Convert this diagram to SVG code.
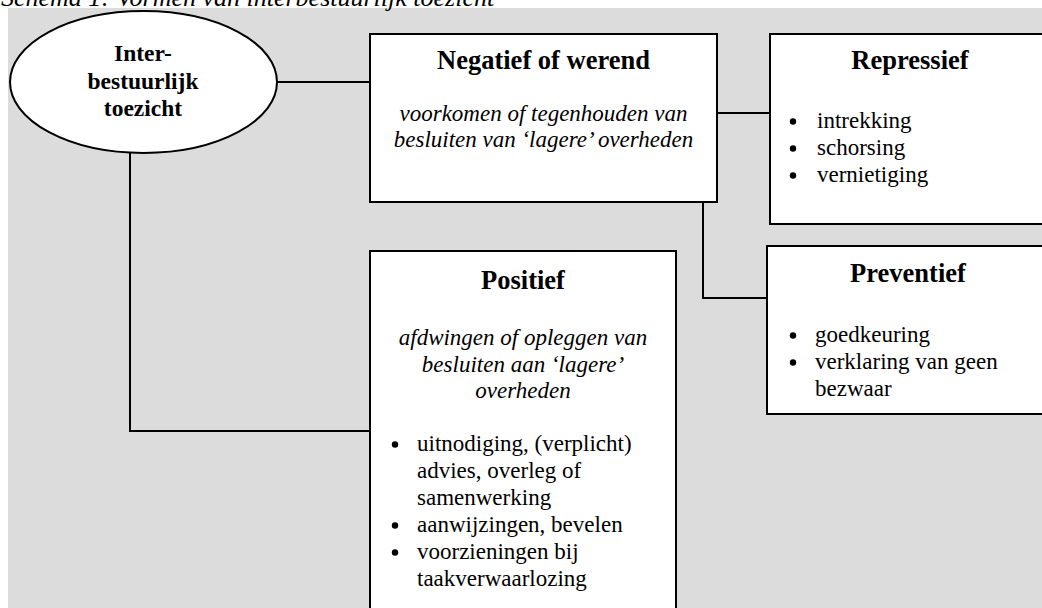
<svg xmlns="http://www.w3.org/2000/svg" width="1042" height="608" viewBox="0 0 1042 608">
<style>
.box{fill:#fff;stroke:#000;stroke-width:2}
.conn{fill:none;stroke:#000;stroke-width:2}
.dot{fill:#000}
text{font-family:"Liberation Serif","Times New Roman",serif;fill:#000}
.h{font-size:26.5px;font-weight:bold;text-anchor:middle}
.e{font-size:23.5px;font-weight:bold;text-anchor:middle}
.i{font-size:23px;font-style:italic;text-anchor:middle}
.b{font-size:23px}
</style>
<rect x="0" y="0" width="1042" height="608" fill="#fff"/>
<rect x="8" y="8" width="1034" height="600" fill="#dcdcdc"/>
<text x="1" y="6" style="font-size:26px;font-style:italic">Schema 1: Vormen van interbestuurlijk toezicht</text>
<g id="connectors">
<line class="conn" x1="277" y1="82" x2="370" y2="82"/>
<line class="conn" x1="717" y1="113" x2="770" y2="113"/>
<polyline class="conn" points="703,202 703,298 767,298"/>
<polyline class="conn" points="130,153 130,431 370,431"/>
</g>
<g id="toezicht">
<ellipse class="box" cx="143.5" cy="82" rx="133.5" ry="71"/>
<text class="e" x="143" y="61">Inter-</text>
<text class="e" x="143" y="89">bestuurlijk</text>
<text class="e" x="143" y="116">toezicht</text>
</g>
<g id="negatief">
<rect class="box" x="370" y="34" width="347" height="168"/>
<text class="h" x="543.5" y="69">Negatief of werend</text>
<text class="i" x="543.5" y="121">voorkomen of tegenhouden van</text>
<text class="i" x="543.5" y="147">besluiten van ‘lagere’ overheden</text>
</g>
<g id="repressief">
<rect class="box" x="770" y="34" width="290" height="190"/>
<text class="h" x="910" y="69">Repressief</text>
<circle class="dot" cx="793" cy="121.5" r="3.2"/><text class="b" x="817" y="128">intrekking</text>
<circle class="dot" cx="793" cy="148.5" r="3.2"/><text class="b" x="817" y="155">schorsing</text>
<circle class="dot" cx="793" cy="175.5" r="3.2"/><text class="b" x="817" y="182">vernietiging</text>
</g>
<g id="preventief">
<rect class="box" x="767" y="246" width="290" height="168"/>
<text class="h" x="908" y="282">Preventief</text>
<circle class="dot" cx="793" cy="335.5" r="3.2"/><text class="b" x="815" y="342">goedkeuring</text>
<circle class="dot" cx="793" cy="362.5" r="3.2"/><text class="b" x="815" y="369">verklaring van geen</text>
<text class="b" x="815" y="396">bezwaar</text>
</g>
<g id="positief">
<rect class="box" x="370" y="251" width="306" height="370"/>
<text class="h" x="523" y="289">Positief</text>
<text class="i" x="523" y="345">afdwingen of opleggen van</text>
<text class="i" x="523" y="372">besluiten aan ‘lagere’</text>
<text class="i" x="523" y="398">overheden</text>
<circle class="dot" cx="395" cy="444.5" r="3.2"/><text class="b" x="417" y="451">uitnodiging, (verplicht)</text>
<text class="b" x="417" y="478">advies, overleg of</text>
<text class="b" x="417" y="505">samenwerking</text>
<circle class="dot" cx="395" cy="525.5" r="3.2"/><text class="b" x="417" y="532">aanwijzingen, bevelen</text>
<circle class="dot" cx="395" cy="552.5" r="3.2"/><text class="b" x="417" y="559">voorzieningen bij</text>
<text class="b" x="417" y="586">taakverwaarlozing</text>
</g>
</svg>
